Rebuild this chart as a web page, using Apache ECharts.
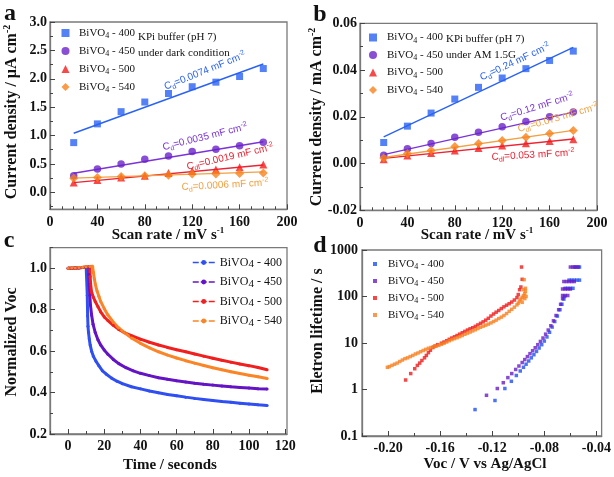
<!DOCTYPE html>
<html><head><meta charset="utf-8">
<script src="https://cdn.jsdelivr.net/npm/echarts@6/dist/echarts.min.js"></script>
<style>html,body{margin:0;padding:0;background:#fff}#c{width:614px;height:477px}</style>
</head><body><div id="c"></div>
<script>
// ---------- DATA ----------
const scanRate = [20,40,60,80,100,120,140,160,180];
const fitX = [20,180];
// panel a (µA cm-2, dark)
const a400 = [0.875,1.205,1.42,1.59,1.74,1.86,1.94,2.04,2.18];
const a450 = [0.29,0.41,0.50,0.58,0.64,0.72,0.76,0.82,0.88];
const a500 = [0.17,0.215,0.26,0.29,0.34,0.375,0.40,0.44,0.49];
const a540 = [0.247,0.26,0.28,0.29,0.30,0.32,0.32,0.33,0.34];
const aFit400 = [1.04,2.26], aFit450 = [0.335,0.89], aFit500 = [0.17,0.48], aFit540 = [0.25,0.36];
// panel b (mA cm-2, AM 1.5G)
const b400 = [0.009,0.016,0.0216,0.0276,0.0326,0.0366,0.0406,0.0441,0.0481];
const b450 = [0.0036,0.0063,0.0086,0.0113,0.0134,0.0157,0.018,0.020,0.0221];
const b500 = [0.0018,0.0034,0.0045,0.0056,0.0067,0.0077,0.0087,0.0096,0.0104];
const b540 = [0.0024,0.0043,0.0056,0.0073,0.0086,0.0099,0.0113,0.0129,0.0141];
const bFit400 = [0.0114,0.0497], bFit450 = [0.0038,0.022], bFit500 = [0.0022,0.0105], bFit540 = [0.0026,0.0142];
// panel c: [time s, normalized Voc]
const c400 = [[0,1.0],[2,1.0],[4,1.002],[6,1.003],[8,1.004],[10,1.005],[10.5,1.0],[10.6,0.87],[10.8,0.77],[11,0.72],[11.3,0.69],[11.7,0.66],[12.2,0.63],[13,0.60],[14,0.575],[15.5,0.55],[17,0.53],[19,0.505],[21,0.49],[24,0.47],[27,0.455],[30,0.443],[35,0.428],[40,0.418],[45,0.408],[50,0.399],[55,0.391],[60,0.385],[65,0.378],[70,0.372],[75,0.367],[80,0.362],[85,0.357],[90,0.353],[95,0.349],[100,0.345],[105,0.341],[110,0.338]];
const c450 = [[0,1.0],[2,1.0],[4,1.002],[6,1.003],[8,1.004],[10,1.005],[11.3,1.006],[11.5,0.97],[11.7,0.92],[12,0.87],[12.4,0.82],[13,0.775],[13.8,0.73],[15,0.69],[16.5,0.655],[18,0.63],[20,0.605],[22,0.585],[25,0.56],[28,0.54],[32,0.52],[36,0.505],[40,0.493],[45,0.482],[50,0.472],[55,0.464],[60,0.457],[65,0.451],[70,0.445],[75,0.44],[80,0.436],[85,0.432],[90,0.428],[95,0.425],[100,0.422],[105,0.419],[110,0.417]];
const c500 = [[0,1.0],[2,1.0],[4,1.002],[6,1.003],[8,1.004],[10,1.006],[12,1.008],[12.2,0.96],[12.5,0.92],[13,0.885],[14,0.86],[15,0.84],[16.5,0.815],[18,0.79],[20,0.765],[22,0.748],[25,0.725],[28,0.705],[31,0.69],[35,0.675],[40,0.658],[45,0.643],[50,0.63],[55,0.618],[60,0.607],[65,0.597],[70,0.586],[75,0.576],[80,0.566],[85,0.556],[90,0.547],[95,0.538],[100,0.53],[105,0.521],[110,0.51]];
const c540 = [[0,1.0],[2,1.001],[4,1.002],[6,1.004],[8,1.005],[10,1.007],[12,1.009],[13.5,1.01],[14,0.98],[14.5,0.95],[15,0.925],[16,0.89],[17,0.865],[18,0.84],[20,0.805],[22,0.775],[25,0.74],[28,0.712],[31,0.69],[35,0.664],[40,0.638],[45,0.616],[50,0.597],[55,0.581],[60,0.567],[65,0.554],[70,0.542],[75,0.531],[80,0.52],[85,0.51],[90,0.501],[95,0.492],[100,0.484],[105,0.476],[110,0.468]];
// panel d: [Voc V, lifetime s]
const d400 = [[-0.1332,0.37],[-0.1179,0.58],[-0.1103,1.05],[-0.1053,1.5],[-0.1015,2.0],[-0.0985,2.5],[-0.096,3.0],[-0.094,3.5],[-0.092,4.1],[-0.090,4.8],[-0.088,5.6],[-0.086,6.6],[-0.084,7.8],[-0.082,9.2],[-0.080,11],[-0.078,13.5],[-0.076,17],[-0.074,22],[-0.072,29],[-0.070,38],[-0.068,52],[-0.0665,68],[-0.065,88],[-0.0645,100],[-0.064,150],[-0.062,150],[-0.060,150],[-0.058,150],[-0.061,225],[-0.059,225],[-0.057,225],[-0.055,225],[-0.053,225],[-0.057,430],[-0.055,430],[-0.053,430]];
const d450 = [[-0.1244,0.75],[-0.1161,1.05],[-0.1115,1.4],[-0.108,1.8],[-0.105,2.2],[-0.102,2.7],[-0.0995,3.2],[-0.097,3.8],[-0.095,4.4],[-0.093,5.1],[-0.091,5.9],[-0.089,6.8],[-0.087,7.9],[-0.085,9.2],[-0.083,10.8],[-0.081,12.8],[-0.079,15.5],[-0.077,19],[-0.075,23.5],[-0.073,30],[-0.071,39],[-0.069,52],[-0.0675,68],[-0.066,90],[-0.066,105],[-0.064,105],[-0.062,105],[-0.066,145],[-0.064,145],[-0.062,145],[-0.060,145],[-0.065,210],[-0.063,210],[-0.061,210],[-0.059,210],[-0.057,210],[-0.060,430],[-0.058,430],[-0.056,430],[-0.054,430]];
const d500 = [[-0.1865,1.6],[-0.1826,2.2],[-0.1795,2.8],[-0.1775,3.3],[-0.1757,3.7],[-0.174,4.2],[-0.172,4.8],[-0.1706,5.4],[-0.169,6.2],[-0.1675,7.0],[-0.1656,8.0],[-0.164,8.6],[-0.162,9.2],[-0.159,9.9],[-0.157,10.5],[-0.155,11.2],[-0.153,12.0],[-0.151,12.8],[-0.149,13.6],[-0.147,14.5],[-0.145,15.5],[-0.143,16.6],[-0.141,17.8],[-0.139,19],[-0.137,20.2],[-0.135,21.3],[-0.133,22.8],[-0.131,24.5],[-0.129,26.5],[-0.127,28.5],[-0.125,31],[-0.123,34],[-0.121,38],[-0.119,42],[-0.117,46],[-0.115,50],[-0.113,55],[-0.111,60],[-0.109,65],[-0.107,70],[-0.105,76],[-0.103,84],[-0.101,95],[-0.100,110],[-0.099,140],[-0.098,160],[-0.097,234],[-0.0975,430]];
const d540 = [[-0.2005,3.0],[-0.199,3.1],[-0.197,3.3],[-0.195,3.5],[-0.193,3.7],[-0.191,4.0],[-0.189,4.3],[-0.187,4.6],[-0.185,4.8],[-0.183,5.1],[-0.181,5.4],[-0.179,5.8],[-0.177,6.1],[-0.175,6.5],[-0.173,6.9],[-0.171,7.3],[-0.169,7.7],[-0.167,8.0],[-0.165,8.3],[-0.163,8.6],[-0.161,8.9],[-0.159,9.4],[-0.157,9.9],[-0.155,10.5],[-0.153,11.2],[-0.151,11.8],[-0.149,12.4],[-0.147,13.0],[-0.145,13.7],[-0.143,14.5],[-0.141,15.4],[-0.139,16.3],[-0.137,17.2],[-0.135,18.2],[-0.133,19.3],[-0.131,20.5],[-0.129,21.8],[-0.127,23.0],[-0.125,24.2],[-0.123,25.5],[-0.121,27],[-0.119,29],[-0.117,31],[-0.115,33.5],[-0.113,36],[-0.111,39],[-0.109,43],[-0.107,48],[-0.105,53],[-0.103,59],[-0.101,66],[-0.100,72],[-0.099,80],[-0.098,88],[-0.097,96],[-0.096,105],[-0.095,115],[-0.0945,130],[-0.096,140],[-0.0945,150],[-0.0955,230],[-0.097,75],[-0.095,90],[-0.094,100]];
// tick labels
const aXTicks = [0,40,80,120,160,200], aXMinor = [10,20,30,50,60,70,90,100,110,130,140,150,170,180,190];
const aYTicks = [0,0.5,1.0,1.5,2.0,2.5,3.0], aYMinor = [-0.25,0.25,0.75,1.25,1.75,2.25,2.75];
const bYTicks = [-0.02,0,0.02,0.04,0.06], bYMinor = [-0.01,0.01,0.03,0.05];
const cXTicks = [0,20,40,60,80,100,120], cXMinor = [-10,10,30,50,70,90,110];
const cYTicks = [0.2,0.4,0.6,0.8,1.0], cYMinor = [0.3,0.5,0.7,0.9,1.1];
const dXTicks = [-0.20,-0.16,-0.12,-0.08,-0.04], dXMinor = [-0.22,-0.18,-0.14,-0.10,-0.06];

// ---------- STYLE ----------
const FS = "'Liberation Serif','Times New Roman',serif";
const SS = "'Liberation Sans',Arial,sans-serif";
const AXC = '#7a7a7a';
const COL = {blue:'#2a62f4', purple:'#6a22c8', red:'#f41c1c', orange:'#f8821c', orangeL:'#f2a040'};
const CC = {blue:'#2f4ff2', purple:'#6414c4', red:'#f21f1f', orange:'#fb8526'};

function axisPair(dim, gi, min, max, majors, minors, fmt, margin) {
  const common = {type:'value', gridIndex:gi, min, max, position: dim==='x'?'bottom':'left', offset:0, splitLine:{show:false}};
  const main = Object.assign({}, common, {
    axisLine:{show:true, onZero:false, lineStyle:{color:AXC, width:1.3}},
    axisTick:{show:true, inside:true, length:5, customValues:majors, lineStyle:{color:'#444', width:1}},
    axisLabel:{show:true, customValues:majors, formatter:fmt, fontFamily:FS, fontWeight:'bold', fontSize:14, color:'#111', margin}
  });
  const minor = Object.assign({}, common, {
    axisLine:{show:false, onZero:false},
    axisTick:{show:true, inside:true, length:3, customValues:minors, lineStyle:{color:'#444', width:1}},
    axisLabel:{show:false}
  });
  return [main, minor];
}
const f0 = v => String(Math.round(v));
const f1 = v => v.toFixed(1);
const f2 = v => (Math.abs(v) < 1e-9 ? 0 : v).toFixed(2);

const xAxis = [].concat(
  axisPair('x',0,0,200,aXTicks,aXMinor,f0,6),
  axisPair('x',1,0,200,aXTicks,aXMinor,f0,6),
  axisPair('x',2,-10,121,cXTicks,cXMinor,f0,5),
  axisPair('x',3,-0.22,-0.036,dXTicks,dXMinor,f2,5)
);
const yAxis = [].concat(
  axisPair('y',0,-0.3,3.0,aYTicks,aYMinor,f1,3),
  axisPair('y',1,-0.02,0.06,bYTicks,bYMinor,f2,3),
  axisPair('y',2,0.2,1.1,cYTicks,cYMinor,f1,3),
  [{type:'log', gridIndex:3, min:0.1, max:1000, logBase:10, position:'left',
    splitLine:{show:false},
    axisLine:{show:true, onZero:false, lineStyle:{color:AXC, width:1.3}},
    axisTick:{show:true, inside:true, length:5, lineStyle:{color:'#444'}},
    minorTick:{show:false},
    axisLabel:{formatter: v => v < 0.5 ? '0.1' : String(Math.round(v)), fontFamily:FS, fontWeight:'bold', fontSize:14, color:'#111', margin:4}}]
);

const grid = [
  {left:50, top:22, width:237, height:187.3},
  {left:360, top:23.3, width:237, height:187},
  {left:50, top:247.6, width:237, height:186.4},
  {left:362, top:250, width:241, height:186}
].map(g => Object.assign(g, {show:true, borderColor:AXC, borderWidth:1.3, backgroundColor:'transparent'}));

const pair = (xs, ys) => xs.map((x,i) => [x, ys[i]]);
function scat(name, xi, yi, data, color, symbol, size) {
  return {name, type:'scatter', xAxisIndex:xi, yAxisIndex:yi, data, symbol, symbolSize:size, itemStyle:{color}, z:3};
}
function fit(xi, yi, ys, color) {
  return {type:'line', xAxisIndex:xi, yAxisIndex:yi, data:pair(fitX, ys), symbol:'none', lineStyle:{color, width:1.4}, silent:true, z:2};
}
function curve(name, data, color) {
  return {name, type:'line', xAxisIndex:4, yAxisIndex:4, data, symbol:'circle', symbolSize:3, showSymbol:true,
    itemStyle:{color}, lineStyle:{color, width:3}};
}

const series = [
  fit(0,0,aFit400,COL.blue), fit(0,0,aFit450,'#7a33d8'), fit(0,0,aFit500,'#ee2233'), fit(0,0,aFit540,COL.orangeL),
  scat('a400',0,0,pair(scanRate,a400),COL.blue,'rect',7),
  scat('a450',0,0,pair(scanRate,a450),COL.purple,'circle',7.5),
  scat('a500',0,0,pair(scanRate,a500),COL.red,'triangle',8),
  scat('a540',0,0,pair(scanRate,a540),COL.orange,'diamond',9),
  fit(2,2,bFit400,COL.blue), fit(2,2,bFit450,'#7a33d8'), fit(2,2,bFit500,'#ee2233'), fit(2,2,bFit540,COL.orangeL),
  scat('b400',2,2,pair(scanRate,b400),COL.blue,'rect',7),
  scat('b450',2,2,pair(scanRate,b450),COL.purple,'circle',7.5),
  scat('b500',2,2,pair(scanRate,b500),COL.red,'triangle',8),
  scat('b540',2,2,pair(scanRate,b540),COL.orange,'diamond',9),
  curve('c400',c400,CC.blue), curve('c450',c450,CC.purple), curve('c500',c500,CC.red), curve('c540',c540,CC.orange),
  scat('d400',6,6,d400,'#2050f0','rect',3.5),
  scat('d450',6,6,d450,'#6a1cc8','rect',3.5),
  scat('d500',6,6,d500,'#f01a1a','rect',3.5),
  scat('d540',6,6,d540,'#f9801e','rect',3.5)
];

function legRichP(pad) {
  return {f:{fontFamily:FS, fontSize:11, lineHeight:14, color:'#111', padding:[0,0,0,pad]},
    n:{fontFamily:FS, fontSize:11, lineHeight:14, color:'#111'},
    s:{fontFamily:FS, fontSize:8, lineHeight:8, verticalAlign:'bottom', color:'#111'}};
}
const legRichC = {f:{fontFamily:FS, fontSize:12, lineHeight:15, color:'#111'}, n:{fontFamily:FS, fontSize:12, lineHeight:15, color:'#111'}, s:{fontFamily:FS, fontSize:11, lineHeight:11, verticalAlign:'bottom', color:'#111'}};
const legFmt = name => '{f|BiVO}{s|4}{n| - ' + name.slice(1) + '}';
function legend(prefix, left, top, gap, iw, ih, icons, rich, extra) {
  return Object.assign({left, top, orient:'vertical', padding:0, itemGap:gap, itemWidth:iw, itemHeight:ih, selectedMode:false,
    data:['400','450','500','540'].map((s,i) => icons ? {name:prefix+s, icon:icons[i]} : {name:prefix+s}),
    formatter:legFmt, textStyle:{rich}}, extra||{});
}
const legends = [
  legend('a',61.5,27.5,5.5,8,8,['rect','circle','triangle','diamond'],legRichP(4.5)),
  legend('b',369,32,5,8,8,['rect','circle','triangle','diamond'],legRichP(5)),
  legend('c',192,256.5,6,22,6,null,legRichC,{lineStyle:{width:1.5, type:[6,2]}}),
  legend('d',373,258.5,4.5,4,4,['rect','rect','rect','rect'],legRichP(6))
];

// ---------- TEXT (graphic) ----------
const G = [];
function txt(x, y, text, rich, rot, extra) {
  G.push(Object.assign({type:'text', x, y, rotation:(rot||0)*Math.PI/180, z:10,
    style:{text, rich, align:'center', verticalAlign:'middle'}}, extra||{}));
}
const bold = (fs) => ({t:{fontFamily:FS, fontWeight:'bold', fontSize:fs, lineHeight:fs+3, fill:'#111'},
  p:{fontFamily:FS, fontWeight:'bold', fontSize:Math.round(fs*0.62), lineHeight:Math.round(fs*0.62), verticalAlign:'top', fill:'#111'}});
// panel letters
txt(10,14,'{t|a}',bold(24)); txt(320,15,'{t|b}',bold(24)); txt(9,241,'{t|c}',bold(24)); txt(320,246,'{t|d}',bold(24));
// axis titles
txt(168,235,'{t|Scan rate / mV s}{p|-1}',bold(15));
txt(477,235,'{t|Scan rate / mV s}{p|-1}',bold(15));
txt(170,465,'{t|Time / seconds}',bold(15));
txt(485,464,'{t|Voc / V vs Ag/AgCl}',bold(15));
txt(12,112,'{t|Current density / μA cm}{p|-2}',bold(16),90);
txt(317,117,'{t|Current density / mA cm}{p|-2}',bold(16),90);
txt(12,342,'{t|Normalized Voc}',bold(16),90);
txt(318,331,'{t|Eletron lifetime / s}',bold(16),90);
// KPi notes
const note = {r:{fontFamily:FS, fontSize:11, lineHeight:16, fill:'#111'}};
G.push({type:'text', x:138, y:29, z:10, style:{text:'{r|KPi buffer (pH 7)}\n{r|under dark condition}', rich:note, align:'left', verticalAlign:'top'}});
G.push({type:'text', x:446, y:31, z:10, style:{text:'{r|KPi buffer (pH 7)}\n{r|under AM 1.5G}', rich:note, align:'left', verticalAlign:'top'}});
// Cdl annotations
function ann(x, y, sub, val, col, rot) {
  const rich = {c:{fontFamily:SS, fontSize:10, lineHeight:13, fill:col},
    s:{fontFamily:SS, fontSize:7, lineHeight:7, verticalAlign:'bottom', fill:col},
    p:{fontFamily:SS, fontSize:7, lineHeight:7, verticalAlign:'top', fill:col}};
  txt(x, y, '{c|C}{s|' + sub + '}{c|=' + val + ' mF cm}{p|-2}', rich, rot);
}
ann(205,71,'d','0.0074',COL.blue,22);
ann(205,137,'d','0.0035','#7a33d8',14);
ann(230,157,'dl','0.0019','#ee2233',13);
ann(225,185,'d','0.0006',COL.orangeL,3);
ann(515,62,'d','0.24',COL.blue,25);
ann(537,107,'d','0.12','#7a33d8',17);
ann(558,118,'dl','0.073',COL.orangeL,16);
ann(533,155,'dl','0.053','#ee2233',3);

const chart = echarts.init(document.getElementById('c'), null, {renderer:'canvas'});
chart.setOption({animation:false, backgroundColor:'#fff', grid, xAxis, yAxis, series, legend:legends, graphic:G});
</script></body></html>
